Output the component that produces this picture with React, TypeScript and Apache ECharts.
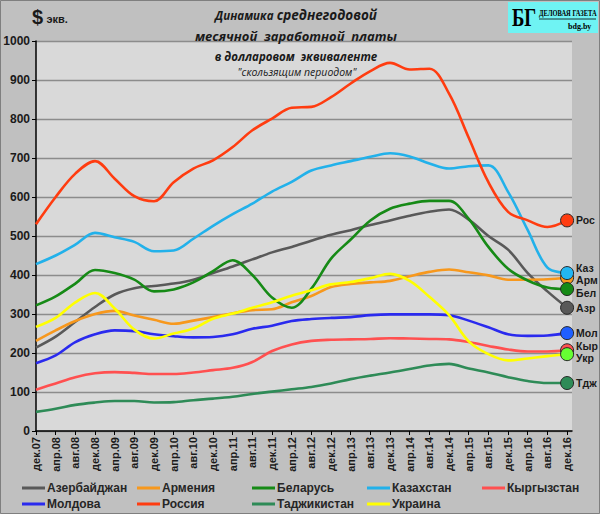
import React, { useEffect, useRef } from 'react';
import * as echarts from 'echarts';

// month names for the monthly category axis (дек.07 … янв.17)
const monthNames = ['янв', 'фев', 'мар', 'апр', 'май', 'июн', 'июл', 'авг', 'сен', 'окт', 'ноя', 'дек'];
const categories: string[] = [];
for (let i = 0; i < 110; i++) {
  const k = 11 + i;
  categories.push(`${monthNames[k % 12]}.${String(7 + Math.floor(k / 12)).padStart(2, '0')}`);
}

// values read every 4 months: дек.07, апр.08, авг.08, … дек.16
const step = 4;
const azerbaijan = [214, 242, 280, 318, 350, 366, 372, 378, 388, 405, 422, 440, 458, 472, 488, 503, 515, 528, 540, 552, 562, 568, 542, 500, 465, 405, 358, 316];
const armenia = [231, 258, 282, 300, 308, 296, 285, 275, 283, 292, 302, 310, 312, 330, 346, 369, 377, 381, 385, 397, 408, 414, 407, 399, 388, 388, 389, 393];
const belarus = [322, 345, 378, 413, 405, 388, 358, 363, 381, 410, 438, 400, 342, 316, 365, 442, 491, 540, 570, 583, 590, 590, 544, 472, 416, 386, 368, 364];
const kazakhstan = [428, 450, 478, 508, 497, 485, 461, 463, 493, 526, 556, 583, 614, 639, 668, 681, 692, 703, 712, 704, 686, 673, 679, 681, 613, 515, 419, 405];
const kyrgyzstan = [106, 122, 138, 148, 151, 149, 146, 146, 150, 156, 162, 177, 205, 222, 231, 234, 235, 236, 238, 237, 236, 235, 228, 218, 209, 204, 204, 207];
const moldova = [174, 194, 228, 248, 258, 256, 248, 243, 240, 241, 248, 262, 270, 282, 287, 290, 292, 297, 299, 299, 299, 297, 283, 266, 248, 244, 245, 251];
const russia = [530, 600, 660, 692, 647, 602, 589, 638, 673, 694, 728, 771, 801, 829, 831, 856, 891, 923, 944, 927, 929, 865, 752, 638, 562, 540, 523, 540];
const tajikistan = [49, 57, 67, 73, 77, 77, 73, 74, 79, 83, 88, 95, 101, 107, 113, 122, 133, 142, 150, 159, 168, 172, 160, 150, 138, 128, 123, 123];
const ukraine = [267, 290, 330, 354, 314, 260, 237, 250, 263, 288, 301, 316, 330, 347, 361, 376, 382, 392, 403, 385, 344, 297, 230, 197, 181, 186, 192, 197];

const seriesNames = ['Азербайджан', 'Армения', 'Беларусь', 'Казахстан', 'Кыргызстан', 'Молдова', 'Россия', 'Таджикистан', 'Украина'];
const shortNames = ['Азр', 'Арм', 'Бел', 'Каз', 'Кыр', 'Мол', 'Рос', 'Тдж', 'Укр'];
const seriesValues = [azerbaijan, armenia, belarus, kazakhstan, kyrgyzstan, moldova, russia, tajikistan, ukraine];
const lineColors = ['#595959', '#f7981d', '#168a16', '#22b1ea', '#ff5050', '#2a2aee', '#ff3c10', '#2e8b57', '#ffff00'];
const dotColors = ['#595959', '#f7981d', '#168a16', '#22b6f2', '#ff5050', '#1f5fff', '#ff3c10', '#2e8b57', '#66ff33'];
const labelShift = [0, 2, 4, -5, -4, 0, 0, 0, 4];

const legendPos = [
  [22, 482], [137, 482], [252, 482], [367, 482], [482, 482],
  [22, 498], [137, 498], [252, 498], [367, 498],
];

const App: React.FC = () => {
  const ref = useRef<HTMLDivElement>(null);

  useEffect(() => {
    if (!ref.current) return;
    const chart = echarts.init(ref.current, undefined, { renderer: 'svg' });
    const font = '"Liberation Sans", Arial, sans-serif';
    const titleFont = '"Open Sans", sans-serif';
    const serif = '"Liberation Serif", serif';

    const series = seriesNames.map((name, i) => {
      const vals = seriesValues[i];
      const last = vals[vals.length - 1];
      return {
        name,
        type: 'line',
        data: vals.map((v, j) => [j * step, v]),
        symbol: 'none',
        smooth: 0.35,
        lineStyle: { width: 2.6, color: lineColors[i] },
        itemStyle: { color: lineColors[i] },
        markPoint: {
          symbol: 'circle',
          symbolSize: 13,
          silent: true,
          data: [{ coord: [(vals.length - 1) * step, last] }],
          itemStyle: { color: dotColors[i], borderColor: '#262626', borderWidth: 1 },
          label: {
            show: true,
            position: 'right',
            distance: 2,
            offset: [0, labelShift[i]],
            formatter: shortNames[i],
            color: '#1a1a1a',
            fontFamily: font,
            fontWeight: 'bold',
            fontSize: 10.5,
            lineHeight: 11,
          },
        },
      };
    });

    const legends = seriesNames.map((name, i) => ({
      data: [name],
      left: legendPos[i][0],
      top: legendPos[i][1],
      icon: 'rect',
      itemWidth: 23,
      itemHeight: 3,
      itemGap: 0,
      padding: 0,
      selectedMode: false,
      textStyle: { color: '#262626', fontFamily: font, fontWeight: 'bold', fontSize: 12, padding: [0, 0, 0, -3] },
    }));

    chart.setOption({
      animation: false,
      backgroundColor: '#c0c0c0',
      grid: {
        left: 36,
        right: 28,
        top: 41,
        bottom: 83,
        show: true,
        backgroundColor: '#d9d9d9',
        borderWidth: 0,
      },
      legend: legends,
      xAxis: {
        type: 'category',
        data: categories,
        boundaryGap: false,
        axisLine: { lineStyle: { color: '#000', width: 1.5 } },
        axisTick: { show: true, interval: 3, length: 4, lineStyle: { color: '#000' } },
        axisLabel: {
          interval: 3,
          rotate: 90,
          margin: 6,
          color: '#1a1a1a',
          fontFamily: font,
          fontWeight: 'bold',
          fontSize: 11,
        },
        splitLine: { show: false },
      },
      yAxis: {
        type: 'value',
        min: 0,
        max: 1000,
        interval: 100,
        axisLine: { show: true, lineStyle: { color: '#000', width: 1.5 } },
        axisTick: { show: true, length: 4, lineStyle: { color: '#000' } },
        axisLabel: {
          margin: 6,
          formatter: (v: number) => String(v),
          color: '#1a1a1a',
          fontFamily: font,
          fontWeight: 'bold',
          fontSize: 12,
        },
        splitLine: { lineStyle: { color: '#8c8c8c', width: 1.3 } },
      },
      series,
      graphic: [
        {
          type: 'rect',
          silent: true,
          z: 100,
          shape: { x: 0.5, y: 0.5, width: 599, height: 513 },
          style: { fill: 'none', stroke: '#7f7f7f', lineWidth: 1 },
        },
        {
          type: 'text',
          z: 100,
          left: 32,
          top: 7,
          style: {
            text: '{a|$} {b|экв.}',
            rich: {
              a: { fontFamily: font, fontWeight: 'bold', fontSize: 20, fill: '#1a1a1a' },
              b: { fontFamily: font, fontWeight: 'bold', fontSize: 11, fill: '#1a1a1a', padding: [4, 0, 0, 0] },
            },
          },
        },
        {
          type: 'text',
          z: 100,
          x: 296,
          y: 15,
          style: {
            text: '{s|Динамика} {l|среднегодовой}',
            align: 'center',
            verticalAlign: 'middle',
            rich: {
              s: { fontFamily: titleFont, fontStyle: 'italic', fontWeight: 'bold', fontSize: 11.5, fill: '#1a1a1a' },
              l: { fontFamily: titleFont, fontStyle: 'italic', fontWeight: 'bold', fontSize: 13.5, fill: '#1a1a1a' },
            },
          },
        },
        {
          type: 'text',
          z: 100,
          x: 296,
          y: 36,
          style: {
            text: 'месячной  заработной  платы',
            align: 'center',
            verticalAlign: 'middle',
            fontFamily: titleFont,
            fontStyle: 'italic',
            fontWeight: 'bold',
            fontSize: 13,
            fill: '#1a1a1a',
          },
        },
        {
          type: 'text',
          z: 100,
          x: 296,
          y: 56,
          style: {
            text: 'в долларовом  эквиваленте',
            align: 'center',
            verticalAlign: 'middle',
            fontFamily: titleFont,
            fontStyle: 'italic',
            fontWeight: 'bold',
            fontSize: 11.5,
            fill: '#1a1a1a',
          },
        },
        {
          type: 'text',
          z: 100,
          x: 297,
          y: 72,
          style: {
            text: '"скользящим периодом"',
            align: 'center',
            verticalAlign: 'middle',
            fontFamily: titleFont,
            fontStyle: 'italic',
            fontSize: 10.5,
            fill: '#1a1a1a',
          },
        },
        {
          type: 'group',
          z: 100,
          left: 508,
          top: 2,
          children: [
            { type: 'rect', shape: { x: 0, y: 0, width: 90, height: 31 }, style: { fill: '#6ff3f3' } },
            {
              type: 'text',
              x: 4,
              y: 2,
              scaleX: 0.72,
              style: { text: 'БГ', fontFamily: serif, fontWeight: 'bold', fontSize: 26, fill: '#000' },
            },
            {
              type: 'text',
              x: 31,
              y: 7,
              scaleX: 0.72,
              style: { text: 'ДЕЛОВАЯ ГАЗЕТА', fontFamily: serif, fontWeight: 'bold', fontSize: 9, fill: '#000' },
            },
            { type: 'line', shape: { x1: 31, y1: 17, x2: 88, y2: 17 }, style: { stroke: '#000', lineWidth: 0.8 } },
            {
              type: 'text',
              x: 60,
              y: 20,
              style: { text: 'bdg.by', fontFamily: serif, fontWeight: 'bold', fontSize: 8, fill: '#000' },
            },
          ],
        },
      ],
    });

    return () => {
      chart.dispose();
    };
  }, []);

  return <div ref={ref} style={{ position: 'absolute', left: 0, top: 0, width: 600, height: 514 }} />;
};

export default App;
